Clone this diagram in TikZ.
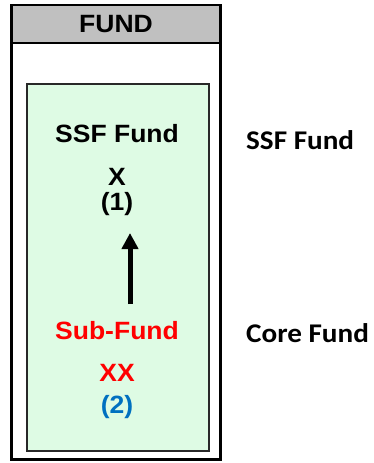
\documentclass[tikz,border=0pt]{standalone}
\usepackage{fontspec}
\newfontfamily\arialb[FakeStretch=1.06]{Liberation Sans Bold}
\newfontfamily\calb[FakeStretch=1.08]{Carlito Bold}
\usetikzlibrary{arrows.meta}
\definecolor{mint}{RGB}{222,251,228}
\definecolor{hdr}{RGB}{192,192,192}
\definecolor{blu}{RGB}{0,112,192}
\definecolor{frame}{RGB}{40,40,40}
\tikzset{
  lt/.style={font=\arialb\fontsize{25}{25}\selectfont, inner sep=0pt, anchor=center},
  rt/.style={font=\calb\fontsize{27}{27}\selectfont, inner sep=0pt, anchor=west},
}
\begin{document}
\begin{tikzpicture}[x=1pt,y=-1pt]
\useasboundingbox (0,0) rectangle (374,463);
\fill[white] (0,0) rectangle (374,463);
% outer box
\draw[line width=3pt, fill=white] (11.5,5) rectangle (220.5,459.5);
\draw[line width=2.5pt, fill=hdr] (11.5,5) rectangle (220.5,43);
\node[lt] (fund) at (116,24) {FUND};
% inner box
\draw[line width=2pt, draw=frame, fill=mint] (26.5,83.5) rectangle (208.5,451);
\node[lt] (ssf) at (117,134) {SSF Fund};
\node[lt] (x) at (117,177) {X};
\node[lt] (n1) at (117,204) {(1)};
\node[lt, text=red] (sub) at (117,331) {Sub-Fund};
\node[lt, text=red] (xx) at (117,373) {XX};
\node[lt, text=blu] (n2) at (117,407) {(2)};
\coordinate (abot) at (130,304);
\coordinate (atop) at (130,233);
\draw[line width=5pt, -{Triangle[width=16pt,length=16pt]}] (abot) -- (atop);
% right labels
\node[rt] (rssf) at (246,140) {SSF Fund};
\node[rt] (rcore) at (246,333) {Core Fund};
\end{tikzpicture}
\end{document}
